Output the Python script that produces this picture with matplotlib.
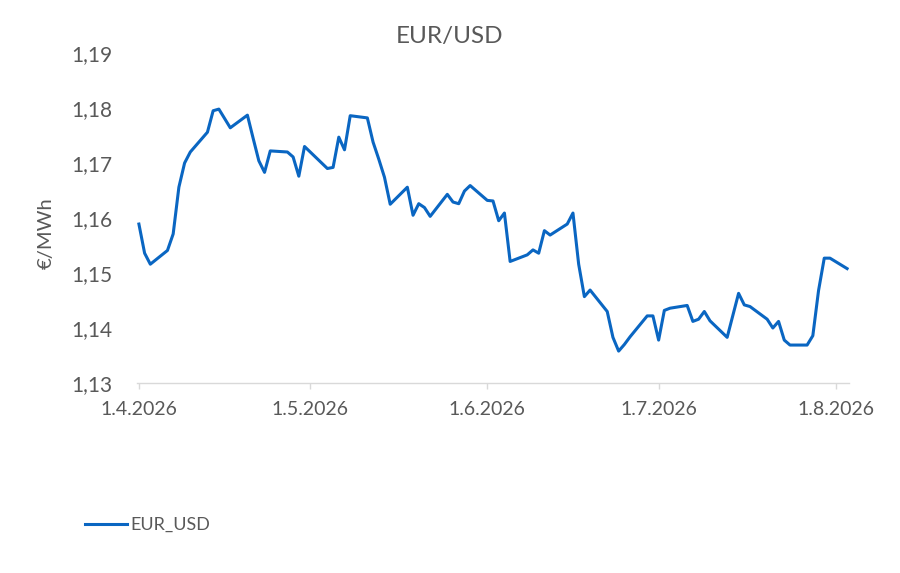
import matplotlib
matplotlib.use("Agg")
import matplotlib.pyplot as plt
from matplotlib.ticker import FuncFormatter, MultipleLocator
import pandas as pd

# EUR/USD daily fixings
dates = [
    "2026-04-01", "2026-04-02", "2026-04-03", "2026-04-06", "2026-04-07", "2026-04-08",
    "2026-04-09", "2026-04-10", "2026-04-13", "2026-04-14", "2026-04-15", "2026-04-16",
    "2026-04-17", "2026-04-20", "2026-04-21", "2026-04-22", "2026-04-23", "2026-04-24",
    "2026-04-27", "2026-04-28", "2026-04-29", "2026-04-30", "2026-05-04", "2026-05-05",
    "2026-05-06", "2026-05-07", "2026-05-08", "2026-05-11", "2026-05-12", "2026-05-13",
    "2026-05-14", "2026-05-15", "2026-05-18", "2026-05-19", "2026-05-20", "2026-05-21",
    "2026-05-22", "2026-05-25", "2026-05-26", "2026-05-27", "2026-05-28", "2026-05-29",
    "2026-06-01", "2026-06-02", "2026-06-03", "2026-06-04", "2026-06-05", "2026-06-08",
    "2026-06-09", "2026-06-10", "2026-06-11", "2026-06-12", "2026-06-15", "2026-06-16",
    "2026-06-17", "2026-06-18", "2026-06-19", "2026-06-22", "2026-06-23", "2026-06-24",
    "2026-06-25", "2026-06-26", "2026-06-29", "2026-06-30", "2026-07-01", "2026-07-02",
    "2026-07-03", "2026-07-06", "2026-07-07", "2026-07-08", "2026-07-09", "2026-07-10",
    "2026-07-13", "2026-07-14", "2026-07-15", "2026-07-16", "2026-07-17", "2026-07-20",
    "2026-07-21", "2026-07-22", "2026-07-23", "2026-07-24", "2026-07-27", "2026-07-28",
    "2026-07-29", "2026-07-30", "2026-07-31", "2026-08-03",
]
eur_usd = [
    1.1589, 1.1536, 1.1516, 1.1541, 1.1571, 1.1656,
    1.1700, 1.1720, 1.1756, 1.1795, 1.1798, 1.1781,
    1.1764, 1.1787, 1.1745, 1.1704, 1.1683, 1.1722,
    1.1720, 1.1711, 1.1676, 1.1730, 1.1690, 1.1692,
    1.1747, 1.1724, 1.1786, 1.1782, 1.1738, 1.1707,
    1.1674, 1.1625, 1.1656, 1.1605, 1.1626, 1.1619,
    1.1603, 1.1643, 1.1629, 1.1626, 1.1649, 1.1659,
    1.1632, 1.1631, 1.1595, 1.1609, 1.1521, 1.1533,
    1.1542, 1.1536, 1.1577, 1.1569, 1.1589, 1.1609,
    1.1516, 1.1457, 1.1469, 1.1430, 1.1383, 1.1358,
    1.1370, 1.1384, 1.1422, 1.1422, 1.1378, 1.1432,
    1.1436, 1.1441, 1.1412, 1.1416, 1.1430, 1.1413,
    1.1383, 1.1423, 1.1463, 1.1442, 1.1439, 1.1416,
    1.1400, 1.1412, 1.1378, 1.1369, 1.1369, 1.1386,
    1.1468, 1.1527, 1.1527, 1.1508,
]
tick_dates = ["2026-04-01", "2026-05-01", "2026-06-01", "2026-07-01", "2026-08-01"]

x = pd.to_datetime(dates)
ticks = pd.to_datetime(tick_dates)

plt.rcParams['font.family'] = ['Lato', 'DejaVu Sans']
grey = '#595959'

fig = plt.figure(figsize=(9, 5.73), dpi=100)
ax = fig.add_axes([137/900, 1 - 383/573, 712/900, 330/573])

ax.plot(x, eur_usd, color='#0A66C2', lw=2.2, label='EUR_USD')

ax.set_xlim(x[0] - pd.Timedelta(hours=8), x[-1] + pd.Timedelta(hours=8))
ax.set_ylim(1.13, 1.19)
ax.yaxis.set_major_locator(MultipleLocator(0.01))
ax.yaxis.set_major_formatter(FuncFormatter(lambda v, p: f"{v:.2f}".replace('.', ',')))
ax.set_xticks(ticks)
ax.set_xticklabels([f"{d.day}.{d.month}.{d.year}" for d in ticks])

for s in ['top', 'right', 'left']:
    ax.spines[s].set_visible(False)
ax.spines['bottom'].set_color('#d9d9d9')
ax.spines['bottom'].set_linewidth(1)

ax.tick_params(axis='y', length=0, pad=18, labelsize=15, labelcolor=grey)
ax.tick_params(axis='x', length=4, width=1, color='#d9d9d9', direction='out',
               pad=9, labelsize=14, labelcolor=grey)

fig.text(450/900, 1 - 36/573, 'EUR/USD', ha='center', va='center', fontsize=17.5, color=grey)
fig.text(46/900, 1 - 233/573, '€/MWh', ha='center', va='center', rotation=90,
         fontsize=14.5, color=grey)

ax.legend(loc='center left', bbox_to_anchor=(85/900, 1 - 525/573), bbox_transform=fig.transFigure,
          frameon=False, fontsize=13, labelcolor=grey, handlelength=2.3, handletextpad=0.2,
          borderpad=0, borderaxespad=0)

fig.savefig('out.png', dpi=100, facecolor='white')
